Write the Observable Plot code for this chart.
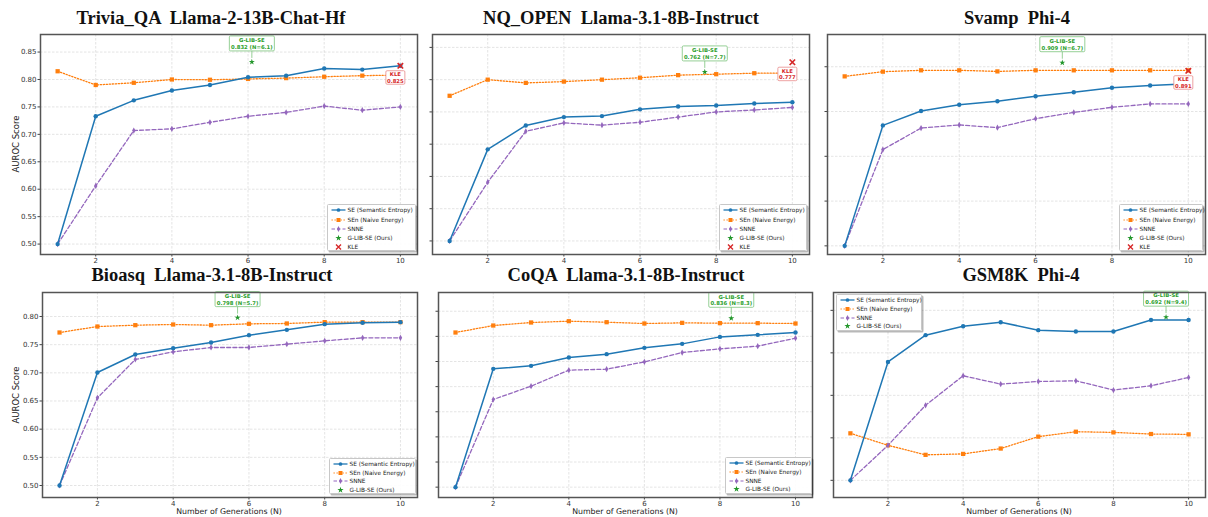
<!DOCTYPE html>
<html><head><meta charset="utf-8">
<script src="https://cdn.jsdelivr.net/npm/d3@7"></script>
<script src="https://cdn.jsdelivr.net/npm/@observablehq/plot@0.6"></script>
<style>
body{margin:0;background:#fff;}
#root{position:relative;width:1208px;height:517px;overflow:hidden;font-family:"DejaVu Sans",sans-serif;background:#fff;}
.title{position:absolute;width:400px;font-family:"Liberation Serif","Times New Roman",serif;font-weight:bold;font-size:18.5px;line-height:14px;text-align:center;white-space:pre;color:#111;}
.panel{position:absolute;}
.axlab{position:absolute;font-family:"DejaVu Sans",sans-serif;color:#222;white-space:nowrap;line-height:10px;text-align:center;}
.legend{position:absolute;box-sizing:border-box;background:rgba(255,255,255,0.92);border:0.8px solid #c8c8c8;box-shadow:1.5px 1.5px 0 rgba(0,0,0,0.28);border-radius:1.5px;font-size:5.8px;color:#222;}
.legend .lab{position:absolute;left:19.5px;line-height:8px;white-space:nowrap;}
</style></head>
<body><div id="root"></div>
<script>
// ---------------- data ----------------
const generations = [1, 2, 3, 4, 5, 6, 7, 8, 9, 10];
const panelTitles = [
  "Trivia_QA  Llama-2-13B-Chat-Hf",
  "NQ_OPEN  Llama-3.1-8B-Instruct",
  "Svamp  Phi-4",
  "Bioasq  Llama-3.1-8B-Instruct",
  "CoQA  Llama-3.1-8B-Instruct",
  "GSM8K  Phi-4"
];
const triviaSE   = [0.500, 0.733, 0.762, 0.780, 0.790, 0.804, 0.807, 0.820, 0.818, 0.825];
const triviaSEn  = [0.815, 0.790, 0.794, 0.800, 0.7995, 0.801, 0.8025, 0.805, 0.807, 0.808];
const triviaSNNE = [0.500, 0.606, 0.707, 0.710, 0.722, 0.733, 0.740, 0.7515, 0.744, 0.750];
const nqSE   = [0.500, 0.642, 0.679, 0.692, 0.6935, 0.704, 0.7085, 0.710, 0.713, 0.715];
const nqSEn  = [0.725, 0.750, 0.745, 0.747, 0.750, 0.753, 0.757, 0.7585, 0.760, 0.760];
const nqSNNE = [0.500, 0.591, 0.670, 0.683, 0.6795, 0.684, 0.692, 0.700, 0.703, 0.707];
const svampSE   = [0.500, 0.769, 0.801, 0.815, 0.823, 0.834, 0.843, 0.853, 0.858, 0.862];
const svampSEn  = [0.8785, 0.889, 0.892, 0.892, 0.8896, 0.892, 0.892, 0.892, 0.892, 0.892];
const svampSNNE = [0.500, 0.715, 0.763, 0.770, 0.764, 0.784, 0.798, 0.8095, 0.817, 0.817];
const bioasqSE   = [0.500, 0.7006, 0.7325, 0.7438, 0.7538, 0.7669, 0.7763, 0.7864, 0.7888, 0.790];
const bioasqSEn  = [0.7716, 0.7822, 0.7846, 0.7858, 0.7846, 0.787, 0.7876, 0.790, 0.790, 0.790];
const bioasqSNNE = [0.500, 0.6556, 0.7237, 0.7373, 0.745, 0.745, 0.7509, 0.7568, 0.7621, 0.7621];
const coqaSE   = [0.500, 0.7354, 0.7414, 0.758, 0.7646, 0.7772, 0.7851, 0.799, 0.803, 0.8077];
const coqaSEn  = [0.8077, 0.8216, 0.8276, 0.8302, 0.8282, 0.8256, 0.8269, 0.8263, 0.8263, 0.8256];
const coqaSNNE = [0.500, 0.6744, 0.7009, 0.7328, 0.7347, 0.7493, 0.7679, 0.7752, 0.7805, 0.7964];
const gsmSE   = [0.500, 0.6393, 0.6708, 0.6813, 0.686, 0.6767, 0.6751, 0.6751, 0.6887, 0.6887];
const gsmSEn  = [0.5553, 0.5412, 0.530, 0.5311, 0.5374, 0.5514, 0.5572, 0.5564, 0.5545, 0.5541];
const gsmSNNE = [0.500, 0.5412, 0.5883, 0.623, 0.6132, 0.6163, 0.6171, 0.6062, 0.6113, 0.621];
const glibN     = [6.1, 7.7, 6.7, 5.7, 8.3, 9.4];
const glibScore = [0.832, 0.762, 0.909, 0.798, 0.836, 0.692];
const kleN      = [10, 10, 10, null, null, null];
const kleScore  = [0.825, 0.777, 0.891, null, null, null];
const xTicks = [2, 4, 6, 8, 10];
const yTicksList = [
  [0.50, 0.55, 0.60, 0.65, 0.70, 0.75, 0.80, 0.85],
  [0.50, 0.55, 0.60, 0.65, 0.70, 0.75, 0.80],
  [0.5, 0.6, 0.7, 0.8, 0.9],
  [0.50, 0.55, 0.60, 0.65, 0.70, 0.75, 0.80],
  [0.50, 0.55, 0.60, 0.65, 0.70, 0.75, 0.80, 0.85],
  [0.50, 0.55, 0.60, 0.65, 0.70]
];
const yTickLabelled = [true, false, false, true, false, false];
const seriesNames = ["SE (Semantic Entropy)", "SEn (Naive Energy)", "SNNE", "G-LIB-SE (Ours)", "KLE"];
const xLabel = "Number of Generations (N)";
const yLabel = "AUROC Score";

const seAll   = [triviaSE, nqSE, svampSE, bioasqSE, coqaSE, gsmSE];
const senAll  = [triviaSEn, nqSEn, svampSEn, bioasqSEn, coqaSEn, gsmSEn];
const snneAll = [triviaSNNE, nqSNNE, svampSNNE, bioasqSNNE, coqaSNNE, gsmSNNE];

// ---------------- layout / style ----------------
const C_SE = "#1f77b4", C_SEN = "#ff7f0e", C_SNNE = "#9467bd", C_STAR = "#22962a", C_GTXT = "#2ca02c", C_KLE = "#d62728";
const yDomains = [[0.481, 0.882], [0.479, 0.820], [0.4807, 0.972], [0.4787, 0.8426], [0.4794, 0.8873], [0.4798, 0.721]];
const layout = [
  {left: 0,   top: 28,  width: 420, height: 245, mL: 40, mR: 3, mT: 6, mB: 19},
  {left: 420, top: 28,  width: 392, height: 245, mL: 12, mR: 3, mT: 6, mB: 19},
  {left: 815, top: 28,  width: 393, height: 245, mL: 12, mR: 3, mT: 6, mB: 19},
  {left: 0,   top: 286, width: 420, height: 231, mL: 42, mR: 3, mT: 6, mB: 20},
  {left: 420, top: 286, width: 395, height: 231, mL: 18, mR: 3, mT: 6, mB: 20},
  {left: 815, top: 286, width: 393, height: 231, mL: 18, mR: 3, mT: 6, mB: 20}
];
const titlePos = [[211, 11], [621, 11], [1017, 11], [212, 268], [626, 268], [1021, 268]];
const xLabelPos = [null, null, null, [229, 507], [625, 507], [1019, 507]];
const yLabelPos = [[15.5, 144], null, null, [16, 395], null, null];
const legendPos = [
  {left: 327, top: 204, w: 89, h: 47, n: 5, sp: 9.2},
  {left: 719, top: 204, w: 88, h: 47, n: 5, sp: 9.2},
  {left: 1119, top: 204, w: 84, h: 47, n: 5, sp: 9.2},
  {left: 329, top: 458, w: 87, h: 36, n: 4, sp: 8.5},
  {left: 725, top: 457, w: 87, h: 37, n: 4, sp: 8.6},
  {left: 836, top: 294, w: 86, h: 37, n: 4, sp: 8.6}
];

const thinDiamond = {draw(ctx, size) { const h = Math.sqrt(size) * 0.8, w = h * 0.55; ctx.moveTo(0, -h); ctx.lineTo(w, 0); ctx.lineTo(0, h); ctx.lineTo(-w, 0); ctx.closePath(); }};
function roundBox(w, h, cx, cy, rad, conn) {
  return {draw(ctx) {
    const x0 = cx - w / 2, y0 = cy - h / 2, x1 = x0 + w, y1 = y0 + h;
    ctx.moveTo(x0 + rad, y0); ctx.lineTo(x1 - rad, y0); ctx.arcTo(x1, y0, x1, y0 + rad, rad);
    ctx.lineTo(x1, y1 - rad); ctx.arcTo(x1, y1, x1 - rad, y1, rad);
    ctx.lineTo(x0 + rad, y1); ctx.arcTo(x0, y1, x0, y1 - rad, rad);
    ctx.lineTo(x0, y0 + rad); ctx.arcTo(x0, y0, x0 + rad, y0, rad); ctx.closePath();
    if (conn) { ctx.moveTo(0, conn[0]); ctx.lineTo(0, conn[1]); }
  }};
}
const glibBox = roundBox(45, 15, 0, -18.5, 1.2, [-11, -4]);
const kleBox = roundBox(19, 13.5, -5, 11.7, 1.2, null);

const root = document.getElementById("root");

function makePanel(k) {
  const L = layout[k];
  const rows = generations.map((n, j) => ({n, se: seAll[k][j], sen: senAll[k][j], snne: snneAll[k][j]}));
  const gl = [{n: glibN[k], v: glibScore[k], label: `G-LIB-SE\n${d3.format(".3f")(glibScore[k])} (N=${d3.format(".1f")(glibN[k])})`}];
  const kl = kleScore[k] == null ? [] : [{n: kleN[k], v: kleScore[k], label: `KLE\n${d3.format(".3f")(kleScore[k])}`}];
  const gridStyle = {stroke: "#b8b8b8", strokeOpacity: 0.55, strokeWidth: 0.7, strokeDasharray: "2.5,1.5"};
  const plot = Plot.plot({
    width: L.width, height: L.height,
    marginLeft: L.mL, marginRight: L.mR, marginTop: L.mT, marginBottom: L.mB,
    x: {domain: [0.55, 10.45], label: null},
    y: {domain: yDomains[k], label: null},
    style: {background: "transparent", fontFamily: "DejaVu Sans", color: "#333", overflow: "visible"},
    marks: [
      Plot.gridX({ticks: xTicks, ...gridStyle}),
      Plot.gridY({ticks: yTicksList[k], ...gridStyle}),
      Plot.axisX({ticks: xTicks, tickSize: 2.5, tickPadding: 1, fontSize: 7, stroke: "#444", label: null}),
      Plot.axisY({ticks: yTicksList[k], tickSize: 2.5, tickPadding: 1.5, fontSize: 7, stroke: "#444",
        tickFormat: yTickLabelled[k] ? d3.format(".2f") : () => "", label: null}),
      Plot.line(rows, {x: "n", y: "sen", stroke: C_SEN, strokeWidth: 1.3, strokeDasharray: "1.3,1.7"}),
      Plot.dot(rows, {x: "n", y: "sen", symbol: "square", r: 2.4, fill: C_SEN, stroke: "none"}),
      Plot.line(rows, {x: "n", y: "snne", stroke: C_SNNE, strokeWidth: 1.3, strokeDasharray: "4,2.2"}),
      Plot.dot(rows, {x: "n", y: "snne", symbol: thinDiamond, r: 2.2, fill: C_SNNE, stroke: "none"}),
      Plot.line(rows, {x: "n", y: "se", stroke: C_SE, strokeWidth: 1.5}),
      Plot.dot(rows, {x: "n", y: "se", symbol: "circle", r: 2.2, fill: C_SE, stroke: "none"}),
      Plot.dot(gl, {x: "n", y: "v", symbol: glibBox, r: 3, fill: "white", stroke: "#7cc47c", strokeWidth: 0.8}),
      Plot.text(gl, {x: "n", y: "v", text: "label", dy: -18.5, fontSize: 5.3, fontWeight: "bold", fill: C_GTXT, lineHeight: 1.3, fontFamily: "DejaVu Sans"}),
      Plot.dot(gl, {x: "n", y: "v", symbol: "star", r: 1.9, fill: C_STAR, stroke: "none"}),
      Plot.dot(kl, {x: "n", y: "v", symbol: kleBox, r: 3, fill: "white", stroke: "#e88a8a", strokeWidth: 0.8}),
      Plot.text(kl, {x: "n", y: "v", text: "label", dx: -5, dy: 11.7, fontSize: 5.3, fontWeight: "bold", fill: C_KLE, lineHeight: 1.25, fontFamily: "DejaVu Sans"}),
      Plot.dot(kl, {x: "n", y: "v", symbol: "times", r: 2.6, stroke: C_KLE, strokeWidth: 1.7}),
      Plot.frame({stroke: "#555", strokeWidth: 1.5})
    ]
  });
  const div = document.createElement("div");
  div.className = "panel";
  div.style.left = L.left + "px";
  div.style.top = L.top + "px";
  div.appendChild(plot);
  root.appendChild(div);

  const t = document.createElement("div");
  t.className = "title";
  t.textContent = panelTitles[k];
  t.style.left = (titlePos[k][0] - 200) + "px";
  t.style.top = titlePos[k][1] + "px";
  root.appendChild(t);

  if (xLabelPos[k]) {
    const xl = document.createElement("div");
    xl.className = "axlab";
    xl.style.fontSize = "7.8px";
    xl.style.width = "200px";
    xl.style.left = (xLabelPos[k][0] - 100) + "px";
    xl.style.top = xLabelPos[k][1] + "px";
    xl.textContent = xLabel;
    root.appendChild(xl);
  }
  if (yLabelPos[k]) {
    const yl = document.createElement("div");
    yl.className = "axlab";
    yl.style.fontSize = "8.5px";
    yl.style.width = "100px";
    yl.style.left = (yLabelPos[k][0] - 50) + "px";
    yl.style.top = (yLabelPos[k][1] - 5) + "px";
    yl.style.transform = "rotate(-90deg)";
    yl.textContent = yLabel;
    root.appendChild(yl);
  }

  // legend
  const LP = legendPos[k];
  const entries = [
    {label: seriesNames[0], color: C_SE, dash: null, w: 1.3, sym: d3.symbolCircle, size: 11, fill: true},
    {label: seriesNames[1], color: C_SEN, dash: "1.3,1.7", w: 1.2, sym: d3.symbolSquare, size: 16, fill: true},
    {label: seriesNames[2], color: C_SNNE, dash: "3.5,2", w: 1.2, sym: thinDiamond, size: 13, fill: true},
    {label: seriesNames[3], color: C_STAR, dash: null, w: 0, sym: d3.symbolStar, size: 12, fill: true},
    {label: seriesNames[4], color: C_KLE, dash: null, w: 0, sym: d3.symbolTimes, size: 18, fill: false}
  ].slice(0, LP.n);
  const lg = d3.select(root).append("div").attr("class", "legend")
    .style("left", LP.left + "px").style("top", LP.top + "px").style("width", LP.w + "px").style("height", LP.h + "px");
  entries.forEach((e, i) => {
    const cy = 5.3 + i * LP.sp;
    const svg = lg.append("svg").attr("width", 18).attr("height", 10)
      .style("position", "absolute").style("left", "1.5px").style("top", (cy - 5) + "px");
    if (e.w > 0) svg.append("line").attr("x1", 1.5).attr("x2", 15.5).attr("y1", 5).attr("y2", 5)
      .attr("stroke", e.color).attr("stroke-width", e.w).attr("stroke-dasharray", e.dash);
    svg.append("path").attr("transform", "translate(8.5,5)").attr("d", d3.symbol(e.sym, e.size)())
      .attr("fill", e.fill ? e.color : "none").attr("stroke", e.fill ? "none" : e.color).attr("stroke-width", 1.4);
    lg.append("div").attr("class", "lab").style("top", (cy - 4) + "px").text(e.label);
  });
}
for (let k = 0; k < 6; k++) makePanel(k);
</script></body></html>
